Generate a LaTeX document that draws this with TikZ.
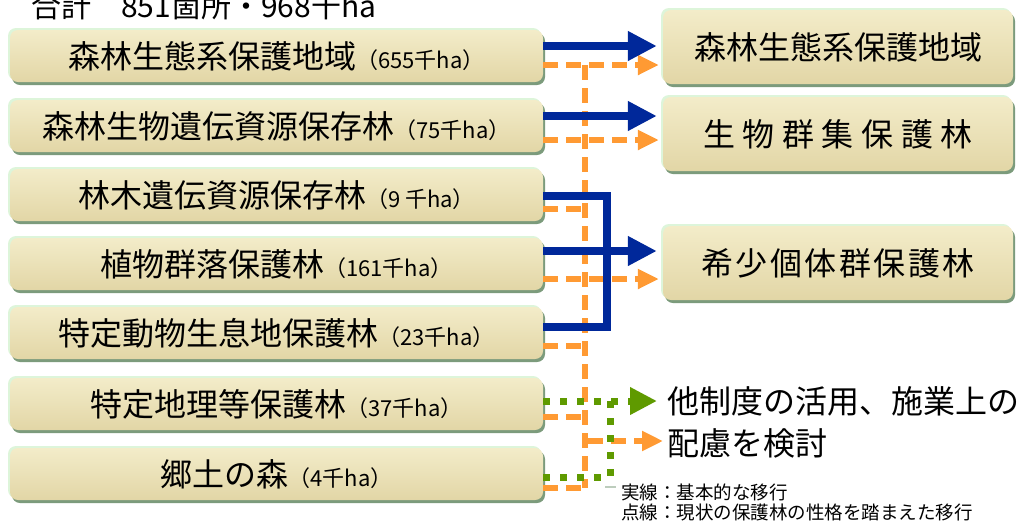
\documentclass[tikz,border=0pt]{standalone}
\usepackage{fontspec}
\setmainfont{Noto Sans CJK JP}
\usetikzlibrary{arrows.meta,shadows}
\definecolor{bluec}{HTML}{00289A}
\definecolor{orangec}{HTML}{FF9A33}
\definecolor{greenc}{HTML}{5F9A00}
\definecolor{boxtop}{HTML}{F3ECC9}
\definecolor{boxbot}{HTML}{E2D6A6}
\definecolor{shadowc}{HTML}{7C9B7C}
\definecolor{glowc}{HTML}{DDF5DA}
\newcommand\subtxt[1]{{\fontsize{22}{24}\selectfont #1}}
\begin{document}
\begin{tikzpicture}[x=1pt,y=-1pt,
  box/.style={rounded corners=8pt, top color=boxtop, bottom color=boxbot, draw=none, inner sep=0pt,
    general shadow={fill=glowc, shadow xshift=-2pt, shadow yshift=2pt},
    general shadow={fill=shadowc, shadow xshift=2pt, shadow yshift=-3pt}},
  lbox/.style={box, minimum width=533pt, minimum height=52pt, font=\fontsize{32}{36}\selectfont},
  rbox/.style={box, minimum width=350pt, minimum height=74pt, font=\fontsize{32}{36}\selectfont},
  bigtxt/.style={inner sep=0pt, anchor=west, font=\fontsize{32}{36}\selectfont},
  legtxt/.style={inner sep=0pt, anchor=west, font=\fontsize{18.5}{20}\selectfont},
  bluearr/.style={draw=bluec, line width=8pt, shorten >=6pt, -{Triangle[length=29pt,width=28pt]}},
  blueline/.style={draw=bluec, line width=8pt, line join=miter},
  orarr/.style={draw=orangec, line width=6pt, dash pattern=on 15pt off 8pt, shorten >=4pt, -{Triangle[length=21pt,width=19pt]}},
  orline/.style={draw=orangec, line width=6pt, dash pattern=on 15pt off 8pt},
  grarr/.style={draw=greenc, line width=7pt, dash pattern=on 7pt off 10pt, shorten >=10pt, -{Triangle[length=27pt,width=26pt]}},
  grline/.style={draw=greenc, line width=7pt, dash pattern=on 7pt off 10pt}
]
\useasboundingbox (0,0) rectangle (1023,523);
\fill[white] (0,0) rectangle (1023,523);

% title (clipped at top)
\node[anchor=base west, inner sep=0pt, font=\fontsize{30}{32}\selectfont] (title) at (31,17) {合計　851箇所・968千ha};

% left boxes
\node[lbox] (L1) at (276.5,56) {森林生態系保護地域\subtxt{（655千ha）}};
\node[lbox] (L2) at (276.5,126) {森林生物遺伝資源保存林\subtxt{（75千ha）}};
\node[lbox] (L3) at (276.5,195) {林木遺伝資源保存林\subtxt{（9 千ha）}};
\node[lbox] (L4) at (276.5,264) {植物群落保護林\subtxt{（161千ha）}};
\node[lbox] (L5) at (276.5,333) {特定動物生息地保護林\subtxt{（23千ha）}};
\node[lbox] (L6) at (276.5,404) {特定地理等保護林\subtxt{（37千ha）}};
\node[lbox] (L7) at (276.5,474) {郷土の森\subtxt{（4千ha）}};

% right boxes
\node[rbox] (R1) at (838,47) {森林生態系保護地域};
\node[rbox] (R2) at (838,134) {生\hspace{7.6pt}物\hspace{7.6pt}群\hspace{7.6pt}集\hspace{7.6pt}保\hspace{7.6pt}護\hspace{7.6pt}林};
\node[rbox] (R3) at (838,263) {希\hspace{2.5pt}少\hspace{2.5pt}個\hspace{2.5pt}体\hspace{2.5pt}群\hspace{2.5pt}保\hspace{2.5pt}護\hspace{2.5pt}林};

% other text
\node[bigtxt] (O1) at (667,401) {他制度の活用、施業上の};
\node[bigtxt] (O2) at (667,443) {配慮を検討};

% legend
\node[legtxt] (G1) at (621,492) {実線：基本的な移行};
\node[legtxt] (G2) at (621,513) {点線：現状の保護林の性格を踏まえた移行};
\draw[shadowc!50, line width=1.2pt] (605,487) -- (616,487);

% connector coordinates
\coordinate (obus) at (585,0);
\coordinate (bbus) at (607,0);
\coordinate (gbus) at (610,0);

\coordinate (o1) at ([yshift=-9pt]L1.east);
\coordinate (o2) at ([yshift=-14pt]L2.east);
\coordinate (o3) at ([yshift=-14pt]L3.east);
\coordinate (o4) at ([yshift=-15pt]L4.east);
\coordinate (o5) at ([yshift=-13pt]L5.east);
\coordinate (o6) at ([yshift=-13pt]L6.east);
\coordinate (o7) at ([yshift=-14pt]L7.east);
\coordinate (oout) at (588,441);

\coordinate (b1) at ([yshift=10pt]L1.east);
\coordinate (b2) at ([yshift=10pt]L2.east);
\coordinate (b3) at ([yshift=-1pt]L3.east);
\coordinate (b4) at ([yshift=13pt]L4.east);
\coordinate (b5) at ([yshift=6pt]L5.east);

\coordinate (g6) at ([yshift=3pt]L6.east);
\coordinate (g7) at ([yshift=-3pt]L7.east);

% orange dashed
\draw[orline] (o1 -| obus) -- (o7 -| obus);
\draw[orarr] (o1) -- (o1 -| R1.west);
\draw[orarr] (o2) -- (o2 -| R2.west);
\draw[orline] (o3) -- (o3 -| obus);
\draw[orarr] (o4) -- (o4 -| R3.west);
\draw[orline] (o5) -- (o5 -| obus);
\draw[orline] (o6) -- (o6 -| obus);
\draw[orline] (o7) -- (o7 -| obus);
\draw[orarr] (oout) -- (oout -| O2.west);

% green dotted
\draw[grline] (g7) -| (gbus |- g6);
\draw[grarr] (g6) -- (g6 -| O1.west);

% blue solid
\draw[bluearr] (b1) -- (b1 -| R1.west);
\draw[bluearr] (b2) -- (b2 -| R2.west);
\draw[blueline] (b3) -- (b3 -| bbus) -- (b5 -| bbus) -- (b5);
\draw[bluearr] (b4) -- (b4 -| R3.west);
\end{tikzpicture}
\end{document}
